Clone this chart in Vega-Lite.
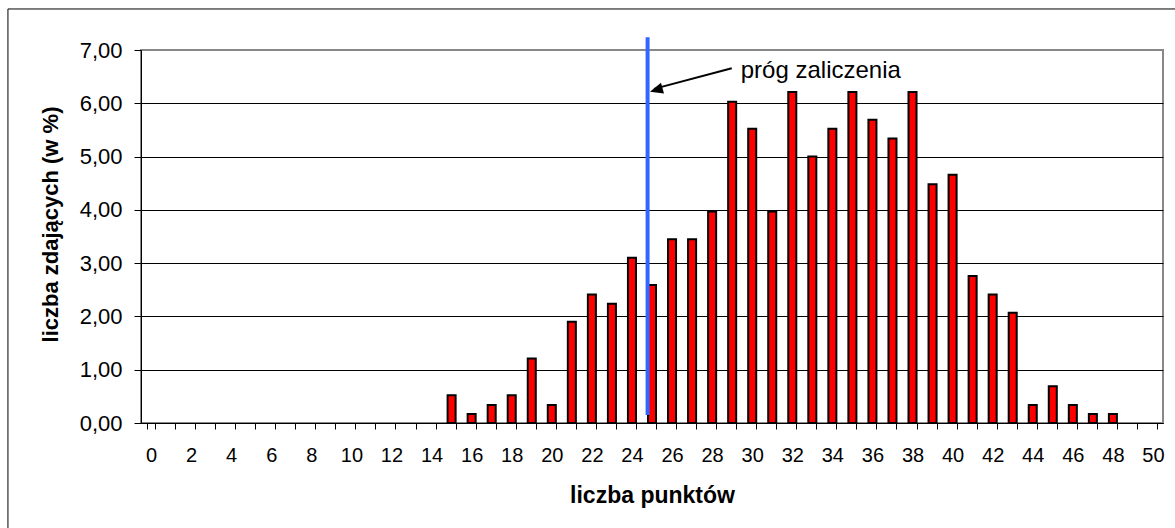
{
  "$schema": "https://vega.github.io/schema/vega-lite/v6.json",
  "width": 1022,
  "height": 373,
  "autosize": {"type": "none"},
  "padding": {"left": 141, "top": 50, "right": 12, "bottom": 105},
  "background": "white",
  "config": {
    "view": {"stroke": "#888888", "strokeWidth": 2},
    "font": "Liberation Sans"
  },
  "datasets": {
    "wyniki": [
      {"pkt": 15, "pct": 0.52},
      {"pkt": 16, "pct": 0.17},
      {"pkt": 17, "pct": 0.34},
      {"pkt": 18, "pct": 0.52},
      {"pkt": 19, "pct": 1.21},
      {"pkt": 20, "pct": 0.34},
      {"pkt": 21, "pct": 1.90},
      {"pkt": 22, "pct": 2.41},
      {"pkt": 23, "pct": 2.24},
      {"pkt": 24, "pct": 3.10},
      {"pkt": 25, "pct": 2.59},
      {"pkt": 26, "pct": 3.45},
      {"pkt": 27, "pct": 3.45},
      {"pkt": 28, "pct": 3.97},
      {"pkt": 29, "pct": 6.03},
      {"pkt": 30, "pct": 5.52},
      {"pkt": 31, "pct": 3.97},
      {"pkt": 32, "pct": 6.21},
      {"pkt": 33, "pct": 5.00},
      {"pkt": 34, "pct": 5.52},
      {"pkt": 35, "pct": 6.21},
      {"pkt": 36, "pct": 5.69},
      {"pkt": 37, "pct": 5.34},
      {"pkt": 38, "pct": 6.21},
      {"pkt": 39, "pct": 4.48},
      {"pkt": 40, "pct": 4.66},
      {"pkt": 41, "pct": 2.76},
      {"pkt": 42, "pct": 2.41},
      {"pkt": 43, "pct": 2.07},
      {"pkt": 44, "pct": 0.34},
      {"pkt": 45, "pct": 0.69},
      {"pkt": 46, "pct": 0.34},
      {"pkt": 47, "pct": 0.17},
      {"pkt": 48, "pct": 0.17}
    ]
  },
  "layer": [
    {
      "data": {"values": [{"x0": -6.64, "x1": 52.5, "y0": 7.77, "y1": -2.5}]},
      "mark": {"type": "rect", "fillOpacity": 0, "stroke": "black", "strokeWidth": 1},
      "encoding": {
        "x": {"field": "x0", "type": "quantitative", "scale": {"domain": [0, 51], "nice": false, "zero": false}, "axis": null},
        "x2": {"field": "x1"},
        "y": {"field": "y0", "type": "quantitative", "scale": {"domain": [0, 7], "nice": false}, "axis": null},
        "y2": {"field": "y1"}
      }
    },
    {
      "data": {"name": "wyniki"},
      "mark": {"type": "bar", "fill": "#FF0000", "stroke": "black", "strokeWidth": 2},
      "encoding": {
        "x": {
          "field": "pkt",
          "type": "ordinal",
          "scale": {
            "domain": [0,1,2,3,4,5,6,7,8,9,10,11,12,13,14,15,16,17,18,19,20,21,22,23,24,25,26,27,28,29,30,31,32,33,34,35,36,37,38,39,40,41,42,43,44,45,46,47,48,49,50],
            "paddingInner": 0.6,
            "paddingOuter": 0.3
          },
          "axis": {
            "title": "liczba punktów",
            "tickBand": "extent",
            "labelExpr": "datum.value % 2 == 0 ? datum.label : ''",
            "labelAngle": 0,
            "labelOverlap": false,
            "labelFontSize": 20,
            "labelColor": "black",
            "tickSize": 6,
            "tickColor": "black",
            "domainColor": "black",
            "labelPadding": 16,
            "grid": false,
            "titleFontSize": 23,
            "titleFontWeight": "bold",
            "titleColor": "black",
            "titleBaseline": "alphabetic",
            "titleY": 79
          }
        },
        "y": {
          "field": "pct",
          "type": "quantitative",
          "scale": {"domain": [0, 7], "nice": false},
          "axis": {
            "title": "liczba zdających (w %)",
            "values": [0, 1, 2, 3, 4, 5, 6, 7],
            "labelExpr": "replace(format(datum.value, '.2f'), '.', ',')",
            "labelFontSize": 22,
            "labelColor": "black",
            "tickSize": 7,
            "tickColor": "black",
            "domainColor": "black",
            "labelPadding": 12,
            "grid": true,
            "gridColor": {"condition": {"test": "datum.value == 7", "value": "#888888"}, "value": "black"},
            "gridOpacity": 1,
            "titleFontSize": 22,
            "titleFontWeight": "bold",
            "titleColor": "black",
            "titleAngle": 270,
            "titleBaseline": "middle",
            "titleX": -91,
            "titleY": 174
          }
        }
      }
    },
    {
      "data": {"values": [{"x": 25.28, "y": 7.24, "y2": 0.15}]},
      "mark": {"type": "rule", "color": "#3366FF", "strokeWidth": 4},
      "encoding": {
        "x": {"field": "x", "type": "quantitative", "scale": {"domain": [0, 51], "nice": false, "zero": false}, "axis": null},
        "y": {"field": "y", "type": "quantitative", "scale": {"domain": [0, 7], "nice": false}, "axis": null},
        "y2": {"field": "y2"}
      }
    },
    {
      "data": {"values": [{"x": 29.48, "y": 6.657, "x2": 25.6, "y2": 6.27}]},
      "mark": {"type": "rule", "color": "black", "strokeWidth": 2},
      "encoding": {
        "x": {"field": "x", "type": "quantitative", "scale": {"domain": [0, 51], "nice": false, "zero": false}, "axis": null},
        "x2": {"field": "x2"},
        "y": {"field": "y", "type": "quantitative", "scale": {"domain": [0, 7], "nice": false}, "axis": null},
        "y2": {"field": "y2"}
      }
    },
    {
      "data": {"values": [{"x": 25.4, "y": 6.217}]},
      "mark": {"type": "point", "shape": "M0,0 L2,-0.85 L2,0.85 Z", "filled": true, "color": "black", "opacity": 1, "size": 169, "angle": -16},
      "encoding": {
        "x": {"field": "x", "type": "quantitative", "scale": {"domain": [0, 51], "nice": false, "zero": false}, "axis": null},
        "y": {"field": "y", "type": "quantitative", "scale": {"domain": [0, 7], "nice": false}, "axis": null}
      }
    },
    {
      "data": {"values": [{"x": 29.93, "y": 6.47, "label": "próg zaliczenia"}]},
      "mark": {"type": "text", "align": "left", "baseline": "alphabetic", "fontSize": 24, "color": "black"},
      "encoding": {
        "x": {"field": "x", "type": "quantitative", "scale": {"domain": [0, 51], "nice": false, "zero": false}, "axis": null},
        "y": {"field": "y", "type": "quantitative", "scale": {"domain": [0, 7], "nice": false}, "axis": null},
        "text": {"field": "label"}
      }
    }
  ],
  "resolve": {"scale": {"x": "independent", "y": "independent"}}
}
